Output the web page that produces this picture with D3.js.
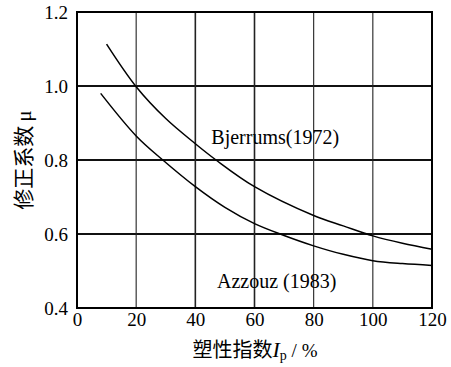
<!DOCTYPE html>
<html><head><meta charset="utf-8">
<script src="https://cdn.jsdelivr.net/npm/d3@7"></script>
<style>body{margin:0;background:#fff}svg{display:block}</style>
</head><body><svg id="c" width="451" height="367"></svg>
<script>
const xTicks = [0, 20, 40, 60, 80, 100, 120];
const yTicks = [0.4, 0.6, 0.8, 1.0, 1.2];
const hGrid = [0.6, 0.8, 1.0];
const vGrid = [20, 40, 60, 80, 100];
const bjerrumIp = [10, 20, 30, 40, 47, 60, 80, 90, 100, 110, 120];
const bjerrumMu = [1.113, 0.998, 0.912, 0.844, 0.80, 0.728, 0.65, 0.622, 0.595, 0.575, 0.559];
const azzouzIp = [8, 20, 29, 40, 50, 60, 70, 80, 90, 100, 110, 120];
const azzouzMu = [0.98, 0.865, 0.8, 0.728, 0.672, 0.628, 0.596, 0.568, 0.545, 0.528, 0.52, 0.515];
const seriesLabels = [{text: "Bjerrums(1972)", x: 67, y: 0.843}, {text: "Azzouz (1983)", x: 67.5, y: 0.455}];

const svg = d3.select("#c");
const m = {l: 77, r: 432, t: 12, b: 308};
const x = d3.scaleLinear().domain([0, 120]).range([m.l, m.r]);
const y = d3.scaleLinear().domain([0.4, 1.2]).range([m.b, m.t]);
const serif = "'Liberation Serif','DejaVu Serif',serif";
const cjk = "'Noto Sans CJK SC','Noto Sans CJK JP',sans-serif";

// grid
svg.append("g").selectAll("line").data(hGrid).join("line")
  .attr("x1", m.l).attr("x2", m.r).attr("y1", d => y(d)).attr("y2", d => y(d))
  .attr("stroke", "#111").attr("stroke-width", 1.8);
svg.append("g").selectAll("line").data(vGrid).join("line")
  .attr("x1", d => x(d)).attr("x2", d => x(d)).attr("y1", m.t).attr("y2", m.b)
  .attr("stroke", "#222").attr("stroke-width", d => (d === 40 || d === 60) ? 1.6 : 1.1);

// curves
const line = d3.line().x(d => x(d[0])).y(d => y(d[1])).curve(d3.curveCatmullRom.alpha(0.5));
const series = [d3.zip(bjerrumIp, bjerrumMu), d3.zip(azzouzIp, azzouzMu)];
svg.append("g").selectAll("path").data(series).join("path")
  .attr("d", line).attr("fill", "none").attr("stroke", "#000").attr("stroke-width", 1.5);

// frame
svg.append("rect").attr("x", m.l).attr("y", m.t).attr("width", m.r - m.l).attr("height", m.b - m.t)
  .attr("fill", "none").attr("stroke", "#000").attr("stroke-width", 2);

// axes
const xAxis = svg.append("g").attr("transform", `translate(0,${m.b})`)
  .call(d3.axisBottom(x).tickValues(xTicks).tickSize(0).tickPadding(5).tickFormat(d3.format("d")));
xAxis.select(".domain").remove();
xAxis.attr("font-family", null).attr("font-size", null);
xAxis.selectAll("text").style("font-family", serif).style("font-size", "19px").attr("fill", "#000");
const yAxis = svg.append("g").attr("transform", `translate(${m.l},0)`)
  .call(d3.axisLeft(y).tickValues(yTicks).tickSize(0).tickPadding(9).tickFormat(d3.format(".1f")));
yAxis.select(".domain").remove();
yAxis.attr("font-family", null).attr("font-size", null);
yAxis.selectAll("text").style("font-family", serif).style("font-size", "19px").attr("fill", "#000");

// series labels
svg.append("g").selectAll("text").data(seriesLabels).join("text")
  .attr("x", d => x(d.x)).attr("y", d => y(d.y)).attr("text-anchor", "middle")
  .style("font-family", serif).style("font-size", "20px").text(d => d.text);

// axis titles
const yt = svg.append("text").attr("transform", "translate(31,160) rotate(-90)")
  .attr("text-anchor", "middle").style("font-family", cjk).style("font-size", "21px");
yt.append("tspan").text("修正系数");
yt.append("tspan").style("font-family", serif).attr("dx", 4).text("μ");

const xt = svg.append("text").attr("x", 255).attr("y", 357).attr("text-anchor", "middle")
  .style("font-family", cjk).style("font-size", "20px");
xt.append("tspan").text("塑性指数");
xt.append("tspan").style("font-family", serif).style("font-style", "italic").style("font-size", "22px").text("I");
xt.append("tspan").style("font-family", serif).style("font-size", "14px").attr("dy", 3).text("p");
xt.append("tspan").style("font-family", serif).style("font-size", "19px").attr("dy", -3).text(" / %");
</script></body></html>
